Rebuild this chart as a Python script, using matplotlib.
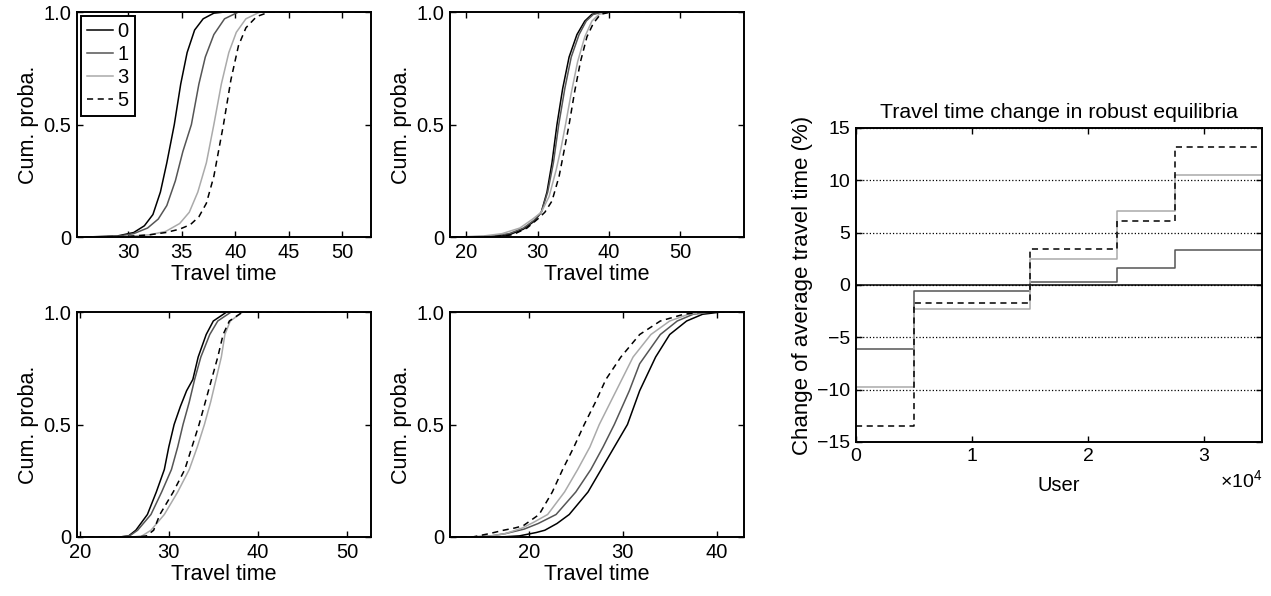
import numpy as np
import matplotlib
matplotlib.use('Agg')
import matplotlib.pyplot as plt
from matplotlib.ticker import ScalarFormatter

plt.rcParams['font.family'] = ['Liberation Sans', 'DejaVu Sans']
plt.rcParams['mathtext.fontset'] = 'custom'
plt.rcParams['mathtext.rm'] = 'Liberation Sans'
plt.rcParams['axes.unicode_minus'] = True

# %% ------ data

labels = ['0', '1', '3', '5']

# panel 1 (top left)
p1_x0 = [26, 29, 30.5, 31.5, 32.3, 33.0, 33.6, 34.3, 34.9, 35.5, 36.2, 37.0, 38.0, 39.0, 52.7]
p1_y0 = [0, 0.005, 0.02, 0.05, 0.1, 0.2, 0.33, 0.5, 0.68, 0.82, 0.92, 0.97, 0.995, 1.0, 1.0]
p1_x1 = [26, 29, 30.5, 31.8, 32.8, 33.6, 34.4, 35.1, 35.9, 36.6, 37.2, 38.0, 39.0, 40.3, 52.7]
p1_y1 = [0, 0.003, 0.015, 0.04, 0.08, 0.14, 0.25, 0.38, 0.5, 0.68, 0.8, 0.9, 0.97, 1.0, 1.0]
p1_x3 = [26, 30, 32, 33.5, 34.8, 35.7, 36.5, 37.3, 38.0, 38.7, 39.4, 40.1, 41.0, 42.3, 52.7]
p1_y3 = [0, 0.003, 0.01, 0.025, 0.06, 0.11, 0.2, 0.33, 0.5, 0.68, 0.82, 0.91, 0.97, 1.0, 1.0]
p1_x5 = [26, 30, 32, 33.5, 34.8, 35.8, 36.6, 37.3, 38.0, 38.9, 39.6, 40.3, 41.0, 42.0, 43.2, 52.7]
p1_y5 = [0, 0.003, 0.01, 0.02, 0.035, 0.055, 0.09, 0.15, 0.27, 0.5, 0.7, 0.85, 0.93, 0.98, 1.0, 1.0]

# panel 2 (top right)
p2_x0 = [18, 23, 26, 28, 29.5, 30.5, 31.3, 32.0, 32.7, 33.5, 34.4, 35.5, 36.6, 37.6, 39, 58.9]
p2_y0 = [0, 0.002, 0.01, 0.035, 0.07, 0.11, 0.2, 0.33, 0.5, 0.66, 0.8, 0.9, 0.96, 0.99, 1.0, 1.0]
p2_x1 = [18, 23, 26, 28, 29.5, 30.5, 31.4, 32.2, 32.95, 33.8, 34.7, 35.8, 36.8, 37.8, 39.2, 58.9]
p2_y1 = [0, 0.003, 0.015, 0.04, 0.075, 0.11, 0.2, 0.33, 0.5, 0.66, 0.8, 0.9, 0.96, 0.99, 1.0, 1.0]
p2_x3 = [18, 22, 25, 27.5, 29.3, 30.5, 31.6, 32.6, 33.3, 33.9, 34.7, 35.6, 36.6, 37.6, 38.6, 40, 58.9]
p2_y3 = [0, 0.003, 0.015, 0.04, 0.08, 0.11, 0.18, 0.3, 0.4, 0.5, 0.64, 0.78, 0.89, 0.96, 0.99, 1.0, 1.0]
p2_x5 = [18, 24, 26.5, 28.5, 30.0, 31.0, 32.0, 33.0, 33.8, 34.4, 35.2, 36.0, 36.9, 37.8, 38.8, 40.3, 58.9]
p2_y5 = [0, 0.002, 0.01, 0.04, 0.08, 0.11, 0.16, 0.27, 0.4, 0.5, 0.65, 0.78, 0.89, 0.95, 0.99, 1.0, 1.0]

# panel 3 (bottom left)
p3_x0 = [19.7, 24.5, 25.5, 26.3, 27.6, 28.6, 29.5, 30.0, 30.6, 31.3, 32.0, 32.7, 33.3, 34.2, 35.0, 36.5, 52.7]
p3_y0 = [0, 0, 0.005, 0.03, 0.1, 0.2, 0.3, 0.4, 0.5, 0.58, 0.65, 0.7, 0.8, 0.9, 0.96, 1.0, 1.0]
p3_x1 = [19.7, 24.5, 25.6, 26.5, 28.0, 29.2, 30.3, 31.0, 31.6, 32.3, 32.9, 33.6, 34.6, 35.5, 37.0, 52.7]
p3_y1 = [0, 0, 0.005, 0.03, 0.1, 0.2, 0.3, 0.4, 0.5, 0.6, 0.7, 0.8, 0.9, 0.96, 1.0, 1.0]
p3_x3 = [19.7, 26, 27.0, 28.0, 29.5, 31.0, 32.3, 33.2, 34.0, 34.7, 35.3, 35.9, 36.3, 36.9, 38.3, 52.7]
p3_y3 = [0, 0, 0.005, 0.03, 0.1, 0.2, 0.3, 0.4, 0.5, 0.6, 0.7, 0.8, 0.9, 0.96, 1.0, 1.0]
p3_x5 = [19.7, 26.5, 27.5, 28.3, 29.0, 30.5, 31.8, 32.6, 33.4, 34.1, 34.8, 35.5, 36.1, 36.8, 38.3, 52.7]
p3_y5 = [0, 0, 0.005, 0.03, 0.1, 0.2, 0.3, 0.4, 0.5, 0.6, 0.7, 0.8, 0.9, 0.96, 1.0, 1.0]

# panel 4 (bottom right)
p4_x0 = [11.6, 17, 19.0, 20.8, 21.7, 23.0, 24.3, 26.3, 27.7, 29.1, 30.5, 31.8, 33.5, 35.0, 36.8, 38.5, 40.5, 42.9]
p4_y0 = [0, 0, 0.005, 0.02, 0.03, 0.06, 0.1, 0.2, 0.3, 0.4, 0.5, 0.65, 0.8, 0.9, 0.96, 0.99, 1.0, 1.0]
p4_x1 = [11.6, 14, 16.0, 17.5, 19.5, 21.0, 22.9, 25.0, 26.6, 27.9, 29.1, 30.7, 31.8, 34.0, 35.8, 37.5, 39.5, 42.9]
p4_y1 = [0, 0, 0.005, 0.015, 0.035, 0.06, 0.1, 0.2, 0.3, 0.4, 0.5, 0.65, 0.77, 0.9, 0.96, 0.99, 1.0, 1.0]
p4_x3 = [11.6, 14, 16.0, 17.5, 19.3, 20.5, 22.0, 23.8, 25.2, 26.5, 27.5, 29.3, 31.1, 33.0, 35.0, 37.0, 39.0, 42.9]
p4_y3 = [0, 0, 0.005, 0.015, 0.04, 0.065, 0.1, 0.2, 0.3, 0.4, 0.5, 0.65, 0.8, 0.9, 0.96, 0.99, 1.0, 1.0]
p4_x5 = [11.6, 14, 15.8, 17.3, 18.5, 19.4, 21.1, 22.5, 23.6, 24.8, 25.9, 27.1, 28.2, 29.8, 31.8, 34.0, 36.5, 38.5, 42.9]
p4_y5 = [0, 0, 0.015, 0.03, 0.04, 0.05, 0.1, 0.2, 0.3, 0.4, 0.5, 0.6, 0.7, 0.8, 0.9, 0.96, 0.99, 1.0, 1.0]

# right plot: step values per user group
user_edges = [0, 5000, 15000, 22500, 27500, 35000]
chg_0 = [0, 0, 0, 0, 0]
chg_1 = [-6.1, -0.6, 0.3, 1.6, 3.3]
chg_3 = [-9.7, -2.3, 2.5, 7.1, 10.5]
chg_5 = [-13.5, -1.7, 3.4, 6.1, 13.2]

# %% ------ styles
styles = [dict(color='black', ls='-'),
          dict(color='#555555', ls='-'),
          dict(color='#aaaaaa', ls='-'),
          dict(color='black', ls=(0, (4, 3)))]

panels = [
    ([p1_x0, p1_x1, p1_x3, p1_x5], [p1_y0, p1_y1, p1_y3, p1_y5], (25.2, 52.7), [30, 35, 40, 45, 50]),
    ([p2_x0, p2_x1, p2_x3, p2_x5], [p2_y0, p2_y1, p2_y3, p2_y5], (17.7, 58.9), [20, 30, 40, 50]),
    ([p3_x0, p3_x1, p3_x3, p3_x5], [p3_y0, p3_y1, p3_y3, p3_y5], (19.7, 52.7), [20, 30, 40, 50]),
    ([p4_x0, p4_x1, p4_x3, p4_x5], [p4_y0, p4_y1, p4_y3, p4_y5], (11.6, 42.9), [20, 30, 40]),
]
positions = [[0.0606, 0.6023, 0.2313, 0.3775],
             [0.3540, 0.6023, 0.2313, 0.3775],
             [0.0606, 0.0990, 0.2313, 0.3775],
             [0.3540, 0.0990, 0.2313, 0.3775]]

fig = plt.figure(figsize=(12.71, 5.96), dpi=100)


def style_axes(ax, size):
    for s in ax.spines.values():
        s.set_linewidth(1.4)
    ax.tick_params(direction='in', top=True, right=True, length=4,
                   width=1.0, labelsize=size, pad=4)


for i, ((xs, ys, xlim, xt), pos) in enumerate(zip(panels, positions)):
    ax = fig.add_axes(pos)
    for x, y, st, lab in zip(xs, ys, styles, labels):
        ax.plot(x, y, lw=1.1, label=lab, **st)
    ax.set_xlim(xlim)
    ax.set_ylim(0, 1)
    ax.set_xticks(xt)
    ax.set_yticks([0, 0.5, 1.0])
    ax.set_yticklabels(['0', '0.5', '1.0'])
    ax.set_xlabel('Travel time', fontsize=15.5, labelpad=2)
    ax.set_ylabel('Cum. proba.', fontsize=15.5, labelpad=3)
    style_axes(ax, 14.5)
    if i == 0:
        leg = ax.legend(loc='upper left', fontsize=14.5, handlelength=1.3,
                        handletextpad=0.2, borderpad=0.3, labelspacing=0.2,
                        fancybox=False, framealpha=1, borderaxespad=0.2)
        leg.get_frame().set_edgecolor('black')
        leg.get_frame().set_linewidth(1.4)

# %% ------ right plot
ax = fig.add_axes([0.6735, 0.2584, 0.3194, 0.527])
for vals, st in zip([chg_0, chg_1, chg_3, chg_5], styles):
    ax.step(user_edges, vals + [vals[-1]], where='post', lw=1.1, **st)
ax.set_xlim(0, 35000)
ax.set_ylim(-15, 15)
ax.set_yticks(np.arange(-15, 16, 5))
ax.set_xticks([0, 10000, 20000, 30000])
ax.yaxis.grid(True, ls=':', color='black', lw=0.9)
fmt = ScalarFormatter(useMathText=True)
fmt.set_scientific(True)
fmt.set_powerlimits((0, 0))
ax.xaxis.set_major_formatter(fmt)
ax.xaxis.get_offset_text().set_fontsize(14)
ax.set_title('Travel time change in robust equilibria', fontsize=15.3, pad=7)
ax.set_xlabel('User', fontsize=14.5, labelpad=8)
ax.set_ylabel('Change of average travel time (%)', fontsize=16, labelpad=3)
style_axes(ax, 14)

plt.savefig('out.png', dpi=100)
